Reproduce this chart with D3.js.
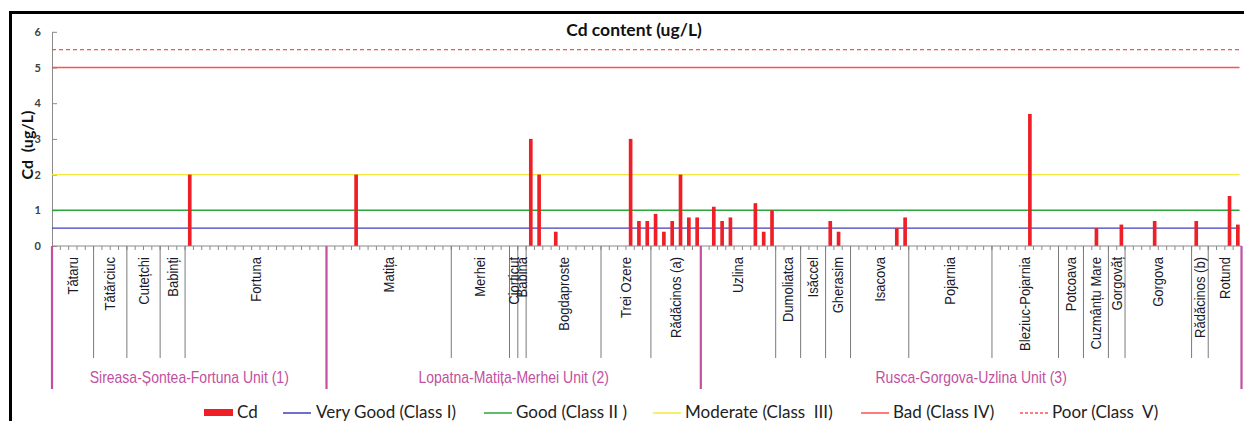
<!DOCTYPE html>
<html>
<head>
<meta charset="utf-8">
<script src="https://cdn.jsdelivr.net/npm/d3@7"></script>
<style>
  html, body { margin: 0; padding: 0; background: #fff; }
  svg { display: block; font-family: "Liberation Sans", Arial, sans-serif; }
  svg text { white-space: pre; }
</style>
</head>
<body>
<svg id="chart" width="1244" height="421"></svg>
<script>
// ---------- DATA ----------
const groupNames = ["Tătaru","Tătărciuc","Cutețchi","Babinți","Fortuna",
  "Matița","Merhei","Cjorticut","Babina","Bogdaproste","Trei Ozere","Rădăcinos (a)",
  "Uzlina","Dumoliatca","Isăccel","Gherasim","Isacova","Pojarnia","Bleziuc-Pojarnia",
  "Potcoava","Cuzmânțu Mare","Gorgovăț","Gorgova","Rădăcinos (b)","Rotund"];
const groupSizes = [5,4,4,3,17, 15,7,1,1,9,6,6, 9,3,3,3,7,10,8,3,3,2,8,2,4];
const unitNames = ["Sireasa-Șontea-Fortuna Unit (1)","Lopatna-Matița-Merhei Unit (2)","Rusca-Gorgova-Uzlina Unit (3)"];
const unitGroupCounts = [5, 7, 13];

// Cd values (ug/L), one per sampling point, listed group by group
const cdValues = [
  0,0,0,0,0,                              // Tătaru
  0,0,0,0,                                // Tătărciuc
  0,0,0,0,                                // Cutețchi
  0,0,0,                                  // Babinți
  2.0,0,0,0,0,0,0,0,0,0,0,0,0,0,0,0,0,    // Fortuna
  0,0,0,2.0,0,0,0,0,0,0,0,0,0,0,0,        // Matița
  0,0,0,0,0,0,0,                          // Merhei
  0,                                      // Cjorticut
  0,                                      // Babina
  3.0,2.0,0,0.4,0,0,0,0,0,                // Bogdaproste
  0,0,0,3.0,0.7,0.7,                      // Trei Ozere
  0.9,0.4,0.7,2.0,0.8,0.8,                // Rădăcinos (a)
  0,1.1,0.7,0.8,0,0,1.2,0.4,1.0,          // Uzlina
  0,0,0,                                  // Dumoliatca
  0,0,0,                                  // Isăccel
  0.7,0.4,0,                              // Gherasim
  0,0,0,0,0,0.5,0.8,                      // Isacova
  0,0,0,0,0,0,0,0,0,0,                    // Pojarnia
  0,0,0,0,3.7,0,0,0,                      // Bleziuc-Pojarnia
  0,0,0,                                  // Potcoava
  0,0.5,0,                                // Cuzmânțu Mare
  0,0.6,                                  // Gorgovăț
  0,0,0,0.7,0,0,0,0,                      // Gorgova
  0.7,0,                                  // Rădăcinos (b)
  0,0,1.4,0.6                             // Rotund
];

const thresholdNames = ["Very Good (Class I)","Good (Class II )","Moderate (Class  III)","Bad (Class IV)","Poor (Class  V)"];
const thresholdValues = [0.5, 1, 2, 5, 5.5];
const thresholdColors = ["#3f3fc0","#2aa63a","#f5e83c","#ff4f4f","#ff4f4f"];
const thresholdDash = [null,null,null,null,"4,3"];
const yTicks = [0,1,2,3,4,5,6];
const titleText = "Cd content (ug/L)";
const yTitle = "Cd  (ug/L)";
const seriesName = "Cd";

// ---------- LAYOUT ----------
const svg = d3.select("#chart");
const CAL = "Lato, 'Open Sans', sans-serif";
const X0 = 52, X1 = 1241.5, Y0 = 246, YTOP = 31.8;
const idx = d3.range(cdValues.length);
const x = d3.scaleBand().domain(idx).range([X0, X1]).paddingInner(0.56).paddingOuter(0.28);
const step = x.step();
const y = d3.scaleLinear().domain([0, 6]).range([Y0, YTOP]);

// frame
svg.append("rect").attr("x", 10.5).attr("y", 12.5).attr("width", 1300).attr("height", 500)
  .attr("fill", "none").attr("stroke", "#000").attr("stroke-width", 3);

// title
svg.append("text").attr("x", 634).attr("y", 36).attr("text-anchor", "middle")
  .attr("font-family", CAL).attr("font-weight", "bold").attr("font-size", 17.5).attr("fill", "#111").text(titleText);

// y title
svg.append("text").attr("transform", "translate(33,145) rotate(-90)").attr("text-anchor", "middle")
  .attr("font-family", CAL).attr("font-weight", "bold").attr("font-size", 16).attr("fill", "#111").text(yTitle);

// y axis
const yAxis = d3.axisLeft(y).tickValues(yTicks).tickSizeInner(-5).tickSizeOuter(0).tickPadding(11).tickFormat(d3.format("d"));
const gy = svg.append("g").attr("transform", `translate(${X0},0)`).call(yAxis);
gy.select(".domain").attr("stroke", "#8a8a8a");
gy.selectAll(".tick line").attr("stroke", "#8a8a8a");
gy.selectAll(".tick text").attr("font-size", 11).attr("font-weight", "bold").attr("fill", "#404040")
  .attr("font-family", CAL);

// threshold lines
thresholdValues.forEach((v, i) => {
  svg.append("line").attr("x1", X0).attr("x2", X1 - 2).attr("y1", y(v)).attr("y2", y(v))
    .attr("stroke", thresholdColors[i]).attr("stroke-width", 1.4)
    .attr("stroke-dasharray", thresholdDash[i]);
});

// bars
svg.append("g").selectAll("rect").data(idx.filter(i => cdValues[i] > 0)).join("rect")
  .attr("x", i => x(i) + 0.5).attr("width", x.bandwidth())
  .attr("y", i => y(cdValues[i])).attr("height", i => Y0 - y(cdValues[i]))
  .attr("fill", "#ee1f26");

// x axis line and minor ticks
svg.append("line").attr("x1", X0).attr("x2", X1).attr("y1", Y0).attr("y2", Y0)
  .attr("stroke", "#8a8a8a").attr("stroke-width", 1);
svg.append("g").selectAll("line").data(d3.range(cdValues.length + 1)).join("line")
  .attr("x1", k => X0 + k * step).attr("x2", k => X0 + k * step)
  .attr("y1", Y0).attr("y2", Y0 + 4).attr("stroke", "#8a8a8a").attr("stroke-width", 1);

// group boundaries
const groupStarts = [];
let acc = 0;
groupSizes.forEach(s => { groupStarts.push(acc); acc += s; });
const unitStartGroups = [];
let ga = 0;
unitGroupCounts.forEach(c => { unitStartGroups.push(ga); ga += c; });
const unitBoundaryCats = unitStartGroups.map(g => groupStarts[g]).concat([cdValues.length]);

groupStarts.forEach((s) => {
  if (unitBoundaryCats.includes(s)) return;
  svg.append("line").attr("x1", X0 + s * step).attr("x2", X0 + s * step)
    .attr("y1", Y0).attr("y2", 358).attr("stroke", "#7a7a7a").attr("stroke-width", 1);
});
unitBoundaryCats.forEach(s => {
  svg.append("line").attr("x1", X0 + s * step).attr("x2", X0 + s * step)
    .attr("y1", Y0).attr("y2", 389).attr("stroke", "#c2509f").attr("stroke-width", 2.2);
});

// group labels
groupNames.forEach((name, g) => {
  const cx = X0 + (groupStarts[g] + groupSizes[g] / 2) * step;
  svg.append("text").attr("transform", `translate(${cx},257) rotate(-90) scale(1,1.12)`)
    .attr("text-anchor", "end").attr("dy", "0.35em")
    .attr("font-size", 13).attr("fill", "#1a1a2a").text(name);
});

// unit labels
unitNames.forEach((name, u) => {
  const a = unitBoundaryCats[u], b = unitBoundaryCats[u + 1];
  const cx = X0 + (a + b) / 2 * step;
  svg.append("text").attr("transform", `translate(${cx},383) scale(1,1.15)`).attr("text-anchor", "middle")
    .attr("font-size", 14).attr("fill", "#c2509f").text(name);
});

// legend
const legY = 413;
const legBase = 418;
const lg = svg.append("g");
lg.append("rect").attr("x", 204).attr("y", 409).attr("width", 29).attr("height", 7).attr("fill", "#ee1f26");
lg.append("text").attr("x", 237).attr("y", legBase).attr("font-family", CAL)
  .attr("font-size", 17).attr("fill", "#222").text(seriesName);
const legLineX = [283, 484, 653, 861, 1020];
const legTextX = [316, 516, 685, 893, 1052];
thresholdNames.forEach((n, i) => {
  lg.append("line").attr("x1", legLineX[i]).attr("x2", legLineX[i] + 28).attr("y1", legY).attr("y2", legY)
    .attr("stroke", thresholdColors[i]).attr("stroke-width", 1.5).attr("stroke-dasharray", thresholdDash[i] ? "3,2" : null);
  lg.append("text").attr("x", legTextX[i]).attr("y", legBase).attr("font-family", CAL)
    .attr("font-size", 17).attr("fill", "#222").text(n);
});
</script>
</body>
</html>
